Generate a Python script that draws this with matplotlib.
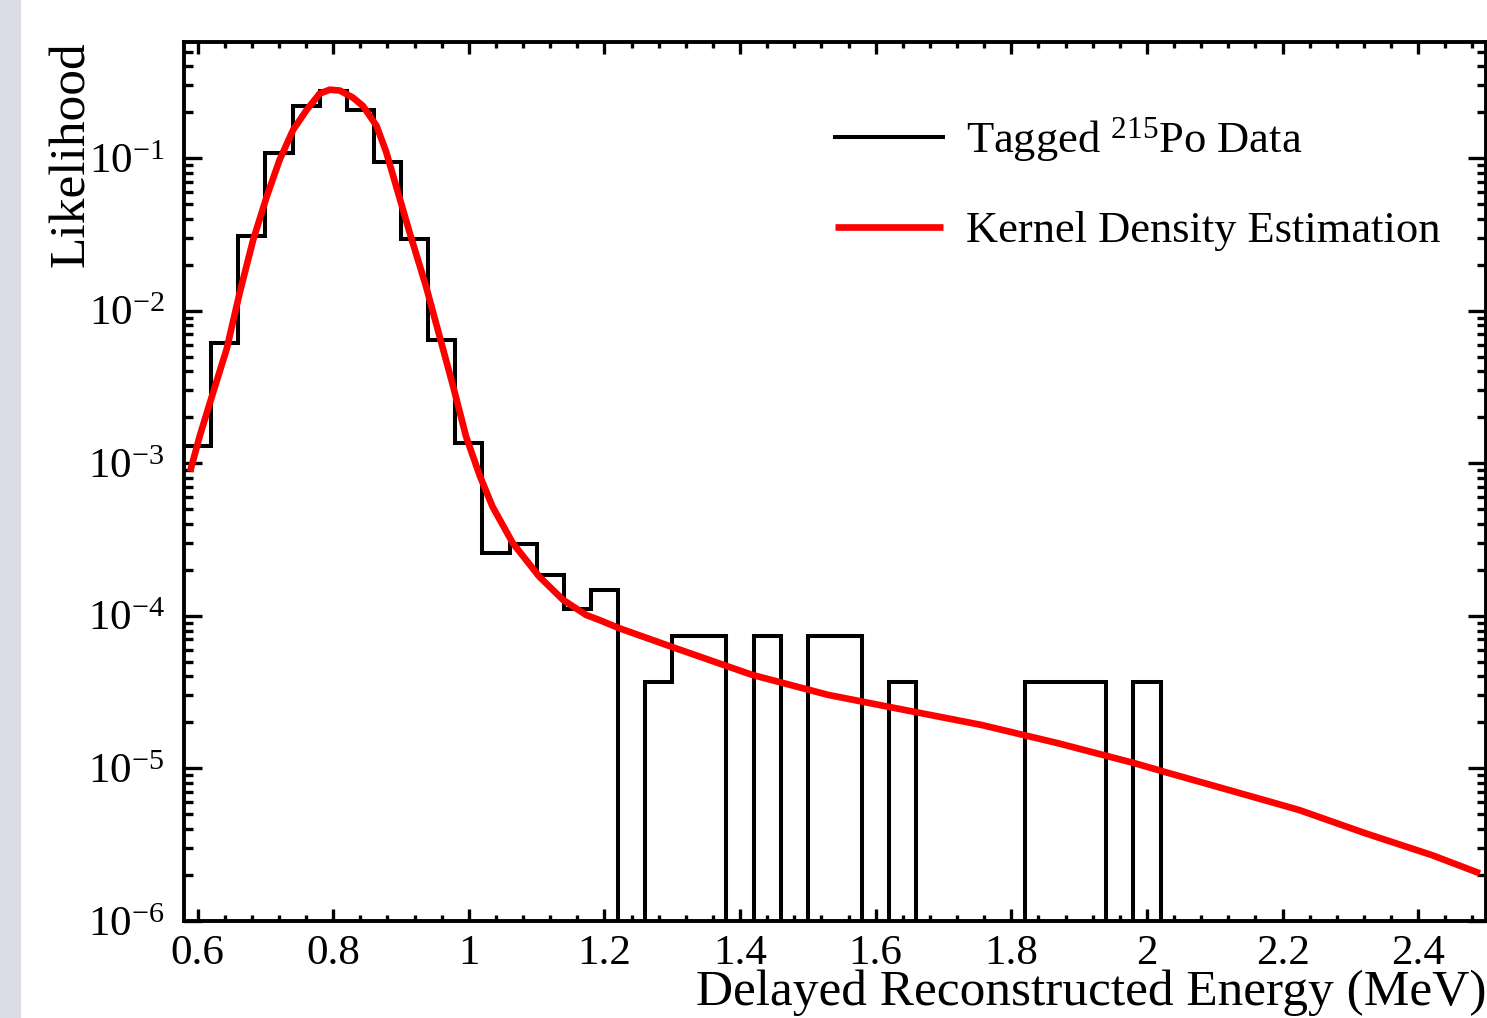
import matplotlib
matplotlib.use("Agg")
import matplotlib.pyplot as plt
from matplotlib.patches import Rectangle
from matplotlib.ticker import MultipleLocator, LogLocator, NullFormatter
import numpy as np

plt.rcParams['font.family'] = ['Liberation Serif', 'DejaVu Serif']
plt.rcParams['mathtext.fontset'] = 'custom'
plt.rcParams['mathtext.rm'] = 'Liberation Serif'
plt.rcParams['mathtext.it'] = 'Liberation Serif:italic'

# histogram: bin edges (MeV) and likelihood per bin
bin_edges = np.round(np.arange(0.58, 2.50 + 1e-9, 0.04), 2)
hist_vals = [1.30e-3, 6.1e-3, 3.1e-2, 1.08e-1, 2.20e-1, 2.76e-1, 2.08e-1, 9.4e-2,
             2.96e-2, 6.4e-3, 1.35e-3, 2.59e-4, 2.96e-4, 1.85e-4, 1.11e-4, 1.48e-4,
             0, 3.7e-5, 7.4e-5, 7.4e-5, 0, 7.4e-5, 0, 7.4e-5, 7.4e-5, 0,
             3.7e-5, 0, 0, 0, 0, 3.7e-5, 3.7e-5, 3.7e-5, 0, 3.7e-5,
             0, 0, 0, 0, 0, 0, 0, 0, 0, 0, 0, 0]

# kernel density estimate (energy, log10 likelihood)
kde_e = [0.589, 0.603, 0.618, 0.643, 0.662, 0.682, 0.702, 0.721, 0.741, 0.761,
         0.780, 0.795, 0.810, 0.829, 0.844, 0.864, 0.878, 0.893, 0.913, 0.937,
         0.957, 0.977, 0.996, 1.016, 1.035, 1.065, 1.104, 1.139, 1.173, 1.1925,
         1.222, 1.305, 1.418, 1.530, 1.643, 1.756, 1.869, 1.982, 2.027, 2.125,
         2.224, 2.322, 2.420, 2.491]
kde_log = [-3.055, -2.825, -2.607, -2.250, -1.885, -1.536, -1.252, -1.011, -0.814, -0.683,
           -0.577, -0.551, -0.557, -0.603, -0.658, -0.789, -0.957, -1.186, -1.492, -1.842,
           -2.170, -2.498, -2.826, -3.08, -3.285, -3.525, -3.744, -3.896, -3.995, -4.028,
           -4.082, -4.213, -4.388, -4.519, -4.618, -4.716, -4.836, -4.967, -5.025, -5.148,
           -5.273, -5.426, -5.569, -5.689]
kde_vals = [10 ** v for v in kde_log]

fig = plt.figure(figsize=(14.87, 10.18), dpi=100)
fig.patches.append(Rectangle((0, 0), 21 / 1487, 1, transform=fig.transFigure,
                             facecolor='#dcdce8', edgecolor='none', zorder=0))
ax = fig.add_axes([184 / 1487, 1 - 920.8 / 1018, 1302 / 1487, 879.1 / 1018])

# histogram outline drawn as steps, dropping below the axis floor for empty bins
floor = 1e-7
hv = np.array([v if v > 0 else floor for v in hist_vals])
ax.stairs(hv, bin_edges, color='black', linewidth=2.9, baseline=None,
          label=r'Tagged $^{215}$Po Data')
ax.plot(kde_e, kde_vals, color='#ff0000', linewidth=4.8, solid_joinstyle='round',
        solid_capstyle='butt', label='Kernel Density Estimation')

ax.set_yscale('log')
ax.set_xlim(0.58, 2.50)
ax.set_ylim(1e-6, 0.58)

ax.xaxis.set_minor_locator(MultipleLocator(0.04))
ax.yaxis.set_minor_locator(LogLocator(base=10, subs=np.arange(2, 10), numticks=20))
ax.yaxis.set_minor_formatter(NullFormatter())
ax.set_xticks([0.6, 0.8, 1.0, 1.2, 1.4, 1.6, 1.8, 2.0, 2.2, 2.4])
ax.set_xticklabels(['0.6', '0.8', '1', '1.2', '1.4', '1.6', '1.8', '2', '2.2', '2.4'])
ax.set_yticks([1e-6, 1e-5, 1e-4, 1e-3, 1e-2, 1e-1])
ax.set_yticklabels([r'$10^{-6}$', r'$10^{-5}$', r'$10^{-4}$', r'$10^{-3}$',
                    r'$10^{-2}$', r'$10^{-1}$'])

ax.tick_params(axis='both', which='both', direction='in', top=True, right=True,
               width=2.4, labelsize=31)
ax.tick_params(axis='x', which='major', length=8.6, pad=10)
ax.tick_params(axis='x', which='minor', length=4.3)
ax.tick_params(axis='y', which='major', length=13, pad=14)
ax.tick_params(axis='y', which='minor', length=6.5)
for s in ax.spines.values():
    s.set_linewidth(2.8)

ax.set_xlabel('Delayed Reconstructed Energy (MeV)', fontsize=37, loc='right')
ax.xaxis.set_label_coords(1.0, -0.055)
ax.xaxis.label.set_va('top')
ax.set_ylabel('Likelihood', fontsize=37, loc='top')
ax.yaxis.set_label_coords(-0.068, 1.0)

ax.legend(loc='upper left', bbox_to_anchor=(0.4865, 0.936), frameon=False,
          fontsize=32, handlelength=2.43, handletextpad=0.52, labelspacing=1.05,
          borderaxespad=0)

fig.savefig('out.png', dpi=100)
